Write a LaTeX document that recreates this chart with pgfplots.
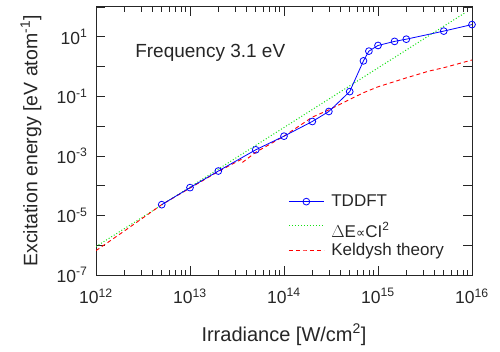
\documentclass[border=0pt]{standalone}
\usepackage{fontspec}
\setmainfont{Liberation Sans}
\newfontfamily\dejavu{DejaVu Sans}
\usepackage{pgfplots}
\usetikzlibrary{calc}
\pgfplotsset{compat=1.18}
\definecolor{mygreen}{RGB}{20,225,20}
\begin{document}
\begin{tikzpicture}
\begin{axis}[
  scale only axis, width=376pt, height=268pt,
  xmode=log, ymode=log,
  xmin=1e12, xmax=1e16, ymin=1e-7, ymax=1e2,
  axis line style={line width=1pt, black!85},
  tick style={black!85, line width=0.7pt},
  tick align=inside,
  major tick length=9pt, minor tick length=5pt,
  xtick={1e12,1e13,1e14,1e15,1e16},
  xticklabels={10\textsuperscript{12},10\textsuperscript{13},10\textsuperscript{14},10\textsuperscript{15},10\textsuperscript{16}},
  ytick={1e-7,1e-6,1e-5,1e-4,1e-3,1e-2,1e-1,1,1e1,1e2},
  yticklabels={10\textsuperscript{-7},{},10\textsuperscript{-5},{},10\textsuperscript{-3},{},10\textsuperscript{-1},{},10\textsuperscript{1},{}},
  yminorticks=false,
  xticklabel style={font=\fontsize{17.5}{21}\selectfont, yshift=-10pt, text=black!85},
  yticklabel style={font=\fontsize{17.5}{21}\selectfont, xshift=-5pt, text=black!85},
  xlabel={Irradiance [W/cm\textsuperscript{2}]},
  ylabel={Excitation energy [eV atom\textsuperscript{-1}]},
  xlabel style={font=\fontsize{20}{24}\selectfont, at={(axis description cs:0.5,0)}, anchor=base, yshift=-66pt, text=black!85},
  ylabel style={font=\fontsize{19.5}{23}\selectfont, at={(axis description cs:-0.173,0.5)}, anchor=center, text=black!85},
  legend image code/.code={\draw[mark repeat=2,mark phase=2,#1] plot coordinates {(0pt,0pt) (17.5pt,0pt) (35pt,0pt)};},
  legend style={draw=none, fill=none, font=\fontsize{17}{20}\selectfont, at={(axis description cs:0.503,0.314)}, anchor=north west, row sep=0pt, column sep=5pt, text=black!85},
  legend cell align=left,
]
\addlegendimage{blue, line width=0.8pt, mark=o, mark size=3.4pt, mark options={solid}}
\addlegendentry{TDDFT\rule[-5pt]{0pt}{5pt}}
\addlegendimage{mygreen, line width=1pt, dotted}
\addlegendentry{\rule[-5pt]{0pt}{30pt}$\Delta$E{\dejavu\fontsize{13}{15}\selectfont ∝}CI\textsuperscript{2}}
\addlegendimage{red, line width=0.9pt, dash pattern=on 4pt off 3pt}
\addlegendentry{\rule{0pt}{13pt}Keldysh theory}

\addplot[mygreen, line width=1pt, dotted, forget plot] coordinates {
(1e12,9e-7) (8.3e15,62)};

\addplot[red, line width=0.9pt, dash pattern=on 4pt off 3pt, forget plot] coordinates {
(1e12,6.6e-7) (2e12,3.0e-6) (5e12,2.3e-5) (1e13,8.3e-5) (2e13,3.0e-4)
(3.5e13,7.6e-4) (3.6e13,6.0e-4) (5e13,1.32e-3) (1e14,4.6e-3) (2e14,0.020)
(3e14,0.035) (5e14,0.079) (7e14,0.132) (1e15,0.209) (2e15,0.417)
(3.5e15,0.708) (5e15,0.912) (1e16,1.66)};

\addplot[blue, line width=0.8pt, mark=o, mark size=3.4pt, forget plot] coordinates {
(5e12,2.3e-5) (1e13,8.6e-5) (2e13,3.1e-4) (5e13,1.6e-3) (1e14,4.6e-3)
(2e14,1.43e-2) (3e14,3.1e-2) (5e14,0.144) (7e14,1.55) (8e14,3.3)
(1e15,5.1) (1.5e15,7.0) (2e15,8.3) (5e15,15.5) (1e16,25.7)};

\node[anchor=base west, font=\fontsize{19}{23}\selectfont, text=black!85] at (axis description cs:0.095,0.813) {Frequency 3.1 eV};

\coordinate (bl) at (rel axis cs:0,0);
\coordinate (tr) at (rel axis cs:1,1);
\end{axis}
\pgfresetboundingbox
\path[use as bounding box] ($(bl)+(-96pt,-77pt)$) rectangle ($(tr)+(28pt,7pt)$);
\end{tikzpicture}
\end{document}
